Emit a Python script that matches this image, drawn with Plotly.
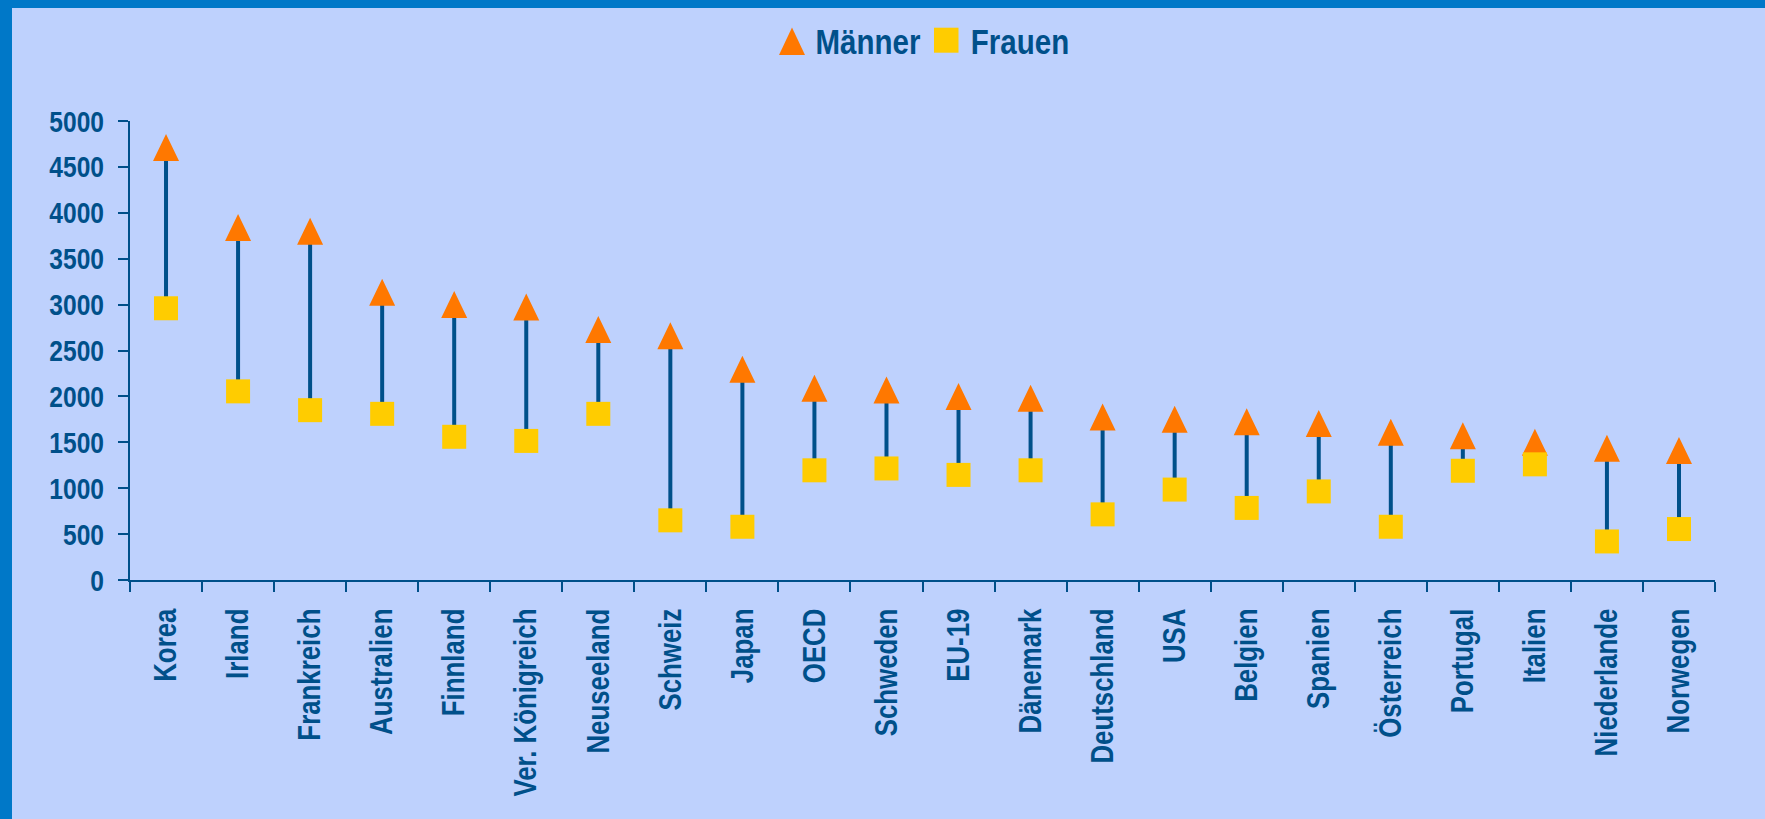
import plotly.graph_objects as go

categories = ["Korea", "Irland", "Frankreich", "Australien", "Finnland", "Ver. Königreich",
              "Neuseeland", "Schweiz", "Japan", "OECD", "Schweden", "EU-19", "Dänemark",
              "Deutschland", "USA", "Belgien", "Spanien", "Österreich", "Portugal", "Italien",
              "Niederlande", "Norwegen"]
maenner = [4710, 3840, 3800, 3135, 3000, 2975, 2730, 2660, 2295, 2090, 2070, 2000, 1980,
           1775, 1750, 1725, 1705, 1610, 1570, 1500, 1435, 1410]
frauen = [2960, 2055, 1850, 1810, 1560, 1515, 1810, 650, 580, 1195, 1215, 1145, 1195,
          715, 985, 785, 965, 580, 1190, 1260, 420, 555]
y_ticks = [0, 500, 1000, 1500, 2000, 2500, 3000, 3500, 4000, 4500, 5000]

W, H = 1765, 819
L, R, T, B = 130, 50, 121, 239
PW, PH = W - L - R, H - T - B
YMAX = 5000
n = len(categories)

TXT = "#00508A"
BG = "#BED1FD"
BORDER = "#0078C8"
ORANGE = "#FF7800"
YELLOW = "#FFCC00"
FONT = "Liberation Sans, Arial, sans-serif"

# marker geometry (pixels -> data units)
tri_half_h = 13.5 * YMAX / PH
tri_half_w = 13.0 * n / PW

fig = go.Figure()

# high-low lines
lx, ly = [], []
for i, (m, f) in enumerate(zip(maenner, frauen)):
    lx += [i, i, None]
    ly += [f, m, None]
fig.add_trace(go.Scatter(x=lx, y=ly, mode="lines", line=dict(color=TXT, width=4),
                         hoverinfo="skip", showlegend=False))

# triangles (Männer)
tx, ty = [], []
for i, m in enumerate(maenner):
    tx += [i - tri_half_w, i + tri_half_w, i, i - tri_half_w, None]
    ty += [m - tri_half_h, m - tri_half_h, m + tri_half_h, m - tri_half_h, None]
fig.add_trace(go.Scatter(x=tx, y=ty, mode="lines", fill="toself", fillcolor=ORANGE,
                         line=dict(width=0, color=ORANGE), name="Männer",
                         hoverinfo="skip", showlegend=False))

# squares (Frauen)
fig.add_trace(go.Scatter(x=list(range(n)), y=frauen, mode="markers", name="Frauen",
                         marker=dict(symbol="square", size=24, color=YELLOW,
                                     line=dict(width=0)),
                         showlegend=False))


def px(xp):
    return (xp - L) / PW


def py(yp):
    return (H - B - yp) / PH


shapes = [
    # border
    dict(type="rect", xref="paper", yref="paper", x0=px(0), x1=px(12), y0=py(H), y1=py(0),
         fillcolor=BORDER, line=dict(width=0), layer="below"),
    dict(type="rect", xref="paper", yref="paper", x0=px(0), x1=px(W), y0=py(8), y1=py(0),
         fillcolor=BORDER, line=dict(width=0), layer="below"),
    # legend keys
    dict(type="path", xref="paper", yref="paper",
         path=f"M {px(779)} {py(55)} L {px(805)} {py(55)} L {px(792)} {py(27.5)} Z",
         fillcolor=ORANGE, line=dict(width=0)),
    dict(type="rect", xref="paper", yref="paper", x0=px(934), x1=px(958.5), y0=py(52.7),
         y1=py(27.7), fillcolor=YELLOW, line=dict(width=0)),
]

annotations = [
    dict(text="<b>Männer</b>", xref="paper", yref="paper", x=px(867.5), y=py(41),
         xanchor="center", yanchor="middle", showarrow=False,
         font=dict(family=FONT, size=36, color=TXT)),
    dict(text="<b>Frauen</b>", xref="paper", yref="paper", x=px(1019.5), y=py(41),
         xanchor="center", yanchor="middle", showarrow=False,
         font=dict(family=FONT, size=36, color=TXT)),
]

fig.update_layout(
    width=W, height=H, autosize=False,
    margin=dict(l=L, r=R, t=T, b=B, pad=0),
    paper_bgcolor=BG, plot_bgcolor=BG,
    shapes=shapes, annotations=annotations,
    showlegend=False,
    xaxis=dict(range=[-0.5, n - 0.5], tickmode="array", tickvals=list(range(n)),
               ticktext=[f"<b>{c}</b>" for c in categories], tickangle=-90,
               ticks="", showgrid=False, zeroline=False, showline=True, automargin=False,
               linecolor=TXT, linewidth=2, ticklabelstandoff=14,
               tickfont=dict(family=FONT, size=31.5, color=TXT),
               minor=dict(tickmode="array", tickvals=[k - 0.5 for k in range(n + 1)],
                          ticks="outside", ticklen=10, tickwidth=2, tickcolor=TXT,
                          showgrid=False)),
    yaxis=dict(range=[0, YMAX], tickmode="array", tickvals=y_ticks,
               ticktext=[f"<b>{v}</b>" for v in y_ticks], automargin=False,
               ticks="outside", ticklen=10, tickwidth=2, tickcolor=TXT,
               showgrid=False, zeroline=False, showline=True, linecolor=TXT, linewidth=2,
               ticklabelstandoff=8,
               tickfont=dict(family=FONT, size=30, color=TXT)),
)

# condensed look (narrow bold face) for all texts: squeeze along the text direction
post = """
document.body.style.margin = '0';
document.body.style.overflow = 'hidden';
var gd = document.getElementById('{plot_id}');
function squeeze(sel, k) {
  gd.querySelectorAll(sel).forEach(function(t) {
    var x = parseFloat(t.getAttribute('x')) || 0;
    var tr = t.getAttribute('transform') || '';
    t.setAttribute('transform', tr + ' translate(' + x + ',0) scale(' + k + ',1) translate(' + (-x) + ',0)');
  });
}
squeeze('.ytick text', 0.82);
squeeze('.xtick text', 0.82);
squeeze('.annotation-text', 0.82);
"""

fig.write_html("out.html", post_script=post, config={"displayModeBar": False})
